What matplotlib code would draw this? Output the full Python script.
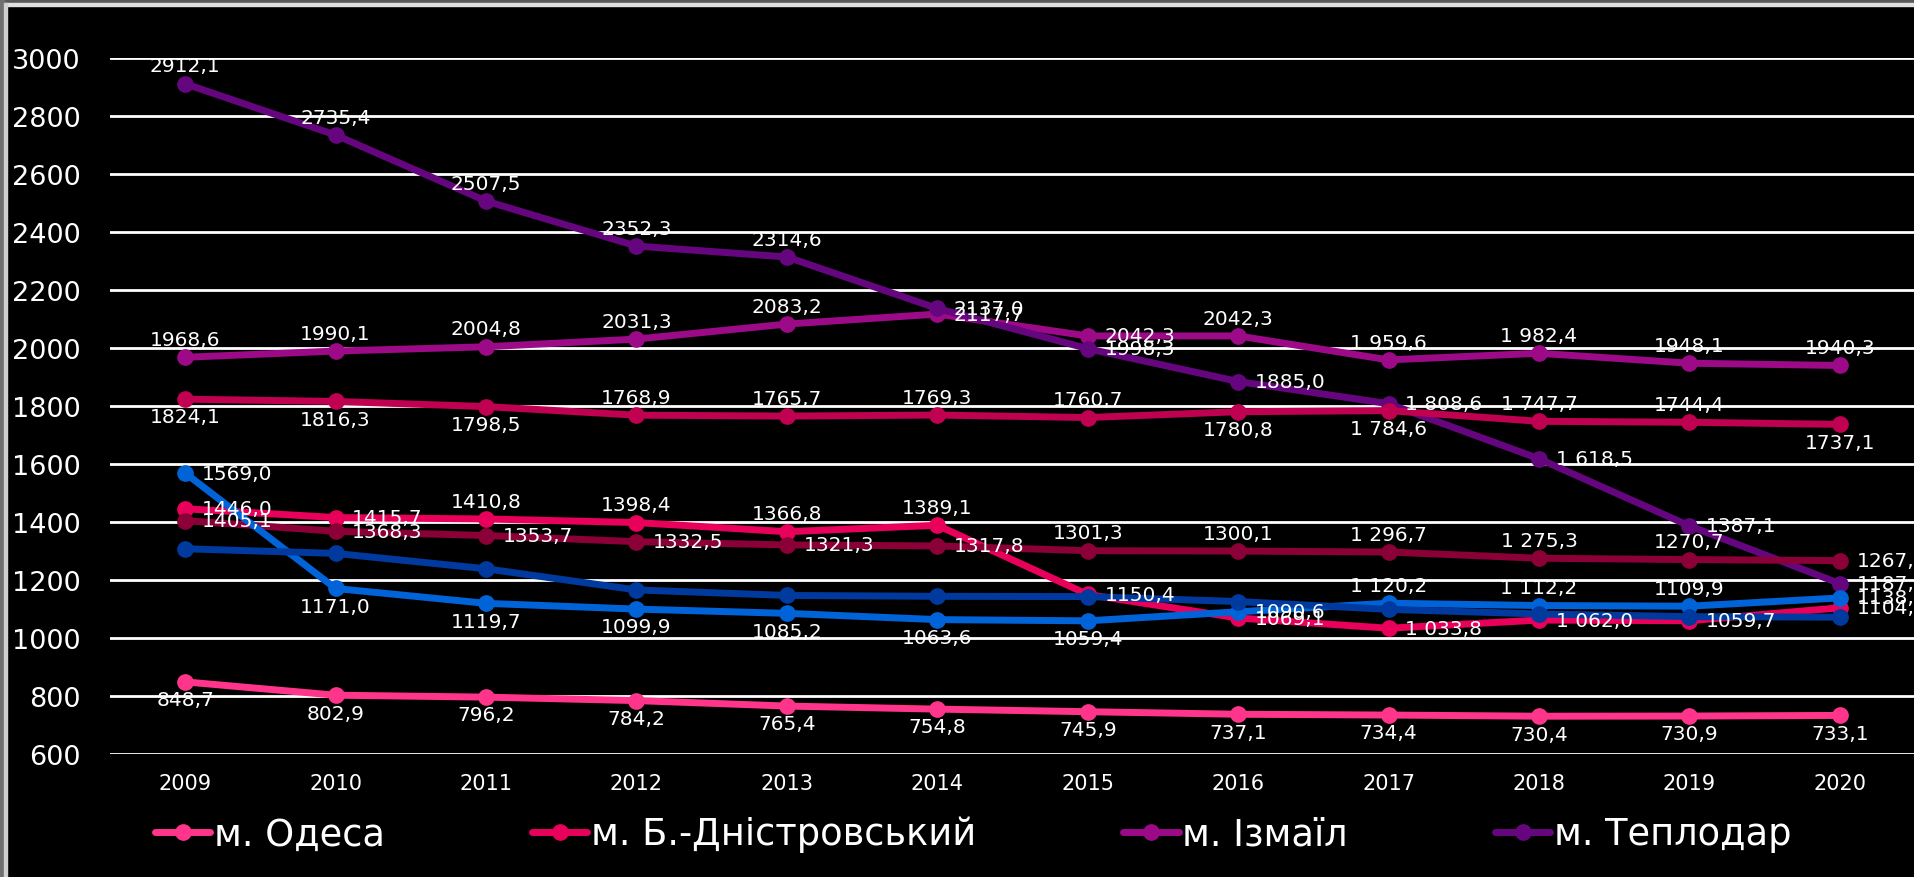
import matplotlib.pyplot as plt
from matplotlib.patches import Rectangle

# data
years = ['2009', '2010', '2011', '2012', '2013', '2014',
         '2015', '2016', '2017', '2018', '2019', '2020']

odesa = [848.7, 802.9, 796.2, 784.2, 765.4, 754.8, 745.9, 737.1, 734.4, 730.4, 730.9, 733.1]
bilhorod = [1446.0, 1415.7, 1410.8, 1398.4, 1366.8, 1389.1, 1150.4, 1069.1, 1033.8, 1062.0, 1059.7, 1104.3]
izmail = [1968.6, 1990.1, 2004.8, 2031.3, 2083.2, 2117.7, 2042.3, 2042.3, 1959.6, 1982.4, 1948.1, 1940.3]
teplodar = [2912.1, 2735.4, 2507.5, 2352.3, 2314.6, 2137.0, 1998.3, 1885.0, 1808.6, 1618.5, 1387.1, 1187.9]
# series whose legend entries are cut off in the picture
crimson = [1824.1, 1816.3, 1798.5, 1768.9, 1765.7, 1769.3, 1760.7, 1780.8, 1784.6, 1747.7, 1744.4, 1737.1]
dark_red = [1405.1, 1368.3, 1353.7, 1332.5, 1321.3, 1317.8, 1301.3, 1300.1, 1296.7, 1275.3, 1270.7, 1267.1]
blue = [1569.0, 1171.0, 1119.7, 1099.9, 1085.2, 1063.6, 1059.4, 1090.6, 1120.2, 1112.2, 1109.9, 1138.4]
dark_blue = [1308, 1292, 1239, 1166, 1147, 1144, 1143, 1126, 1099, 1083, 1074, 1072]

legend_names = ['м. Одеса', 'м. Б.-Дністровський', 'м. Ізмаїл', 'м. Теплодар']

# style: colour, label placement per point (A above, B below, R right, '' none)
series = [
    (odesa, '#FF358B', 'BBBBBBBBBBBB'),
    (bilhorod, '#E8005A', 'RRAAAARRRRRR'),
    (izmail, '#9C0A88', 'AAAAARRAAAAA'),
    (teplodar, '#66067F', 'AAAAARRRRRRR'),
    (crimson, '#C00050', 'BBBAAAABBAAB'),
    (dark_red, '#8B0036', 'RRRRRRAAAAAR'),
    (blue, '#0064D8', 'RBBBBBBRAAAR'),
    (dark_blue, '#003A9E', ''),
]

plt.rcParams['font.family'] = ['DejaVu Sans']

fig = plt.figure(figsize=(19.15, 8.78), dpi=100, facecolor='black')
ax = fig.add_axes([110 / 1915, 1 - 755 / 878, 1 - 110 / 1915, (755 - 59.3) / 878])
ax.set_facecolor('black')

x = list(range(len(years)))


def fmt(v, year):
    s = '{:.1f}'.format(v).replace('.', ',')
    if year in ('2017', '2018') and v >= 1000:
        s = s[0] + ' ' + s[1:]
    return s


lines = []
for i, (vals, col, pos) in enumerate(series):
    ln, = ax.plot(x, vals, color=col, lw=5, marker='o', ms=11,
                  solid_capstyle='round', zorder=3 + i)
    lines.append(ln)
    for j, p in enumerate(pos):
        if p == 'A':
            off, ha, va = (0, 6), 'center', 'bottom'
        elif p == 'B':
            off, ha, va = (0, -6), 'center', 'top'
        else:
            off, ha, va = (12, 0), 'left', 'center'
        ax.annotate(fmt(vals[j], years[j]), (x[j], vals[j]), xytext=off,
                     textcoords='offset points', ha=ha, va=va,
                     color='white', fontsize=14.5, zorder=20)

ax.set_xlim(-0.5, 11.5)
ax.set_ylim(600, 3000)
ax.set_yticks(range(600, 3001, 200))
ax.set_xticks(x)
ax.set_xticklabels(years)
ax.grid(axis='y', color='white', lw=2)
ax.set_axisbelow(True)
for s in ax.spines.values():
    s.set_visible(False)
ax.tick_params(axis='y', length=0, pad=21, labelsize=19.5, colors='white')
ax.tick_params(axis='x', length=0, pad=14, labelsize=15, colors='white')

fig.legend(lines[:4], legend_names, loc='center left',
           bbox_to_anchor=(155 / 1915, 1 - 835 / 878), ncol=4, frameon=False,
           fontsize=26.5, labelcolor='white', handlelength=1.5, handletextpad=0.1,
           columnspacing=4.0, borderpad=0, borderaxespad=0)

# slide frame bits
fig.patches.append(Rectangle((0, 1 - 4 / 878), 1, 4 / 878, transform=fig.transFigure,
                             color='#595959', zorder=0))
fig.patches.append(Rectangle((0, 1 - 7 / 878), 1, 3 / 878, transform=fig.transFigure,
                             color='#e0e0e0', zorder=0))
fig.patches.append(Rectangle((0, 0), 4 / 1915, 1, transform=fig.transFigure,
                             color='#707070', zorder=0))
fig.patches.append(Rectangle((4 / 1915, 0), 3 / 1915, 1 - 4 / 878, transform=fig.transFigure,
                             color='#d0d0d0', zorder=0))

fig.savefig('out.png', dpi=100, facecolor='black')
